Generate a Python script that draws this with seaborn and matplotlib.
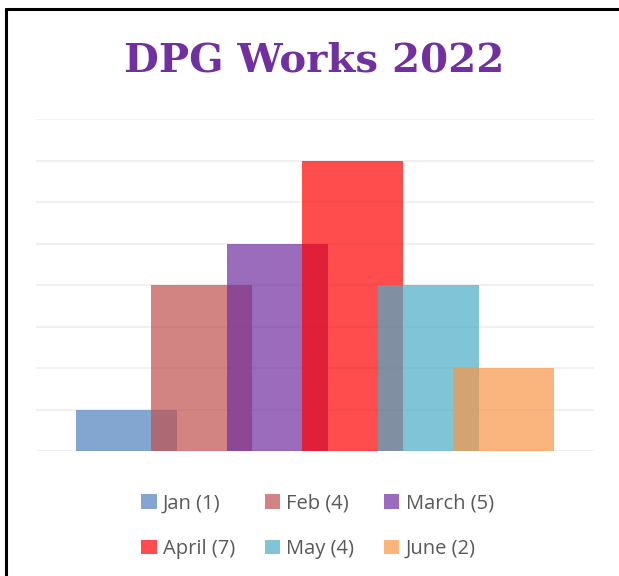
import numpy as np
import pandas as pd
import seaborn as sns
import matplotlib.pyplot as plt
from matplotlib.lines import Line2D
from matplotlib.patches import Patch

# data
months = ['Jan', 'Feb', 'March', 'April', 'May', 'June']
works = [1, 4, 5, 7, 4, 2]
colors = ['#4F81BD', '#C0504D', '#6F2E9E', '#FF0000', '#4BACC6', '#F79646']

df = pd.DataFrame({'month': months, 'works': works})

sns.set_style('white')
fig = plt.figure(figsize=(6.19, 5.76), dpi=100)
ax = fig.add_axes([0.058, 0.217, 0.902, 0.576])

sns.barplot(data=df, x='month', y='works', hue='month', palette=colors,
            width=1.34, alpha=0.7, dodge=False, legend=False, ax=ax,
            linewidth=0, saturation=1)

ax.set_xlim(-1.2, 6.2)
ax.set_ylim(0, 8)
ax.set_yticks(range(0, 9))
ax.yaxis.grid(True, color='#F0F0F0', linewidth=1.5)
ax.set_axisbelow(True)
ax.set_xticks([])
ax.set_yticklabels([])
ax.tick_params(left=False, bottom=False)
ax.set_xlabel('')
ax.set_ylabel('')
for s in ax.spines.values():
    s.set_visible(False)

fig.text(0.508, 0.895, 'DPG Works 2022', ha='center', va='center',
         fontsize=29, fontweight='bold', color='#7030A0', family='DejaVu Serif')

# legend, filled row by row (matplotlib fills by column)
handles = [Patch(facecolor=c, alpha=0.7, edgecolor='none') for c in colors]
labels = [f'{m} ({v})' for m, v in zip(months, works)]
order = [0, 3, 1, 4, 2, 5]
fig.legend([handles[i] for i in order], [labels[i] for i in order],
           ncol=3, loc='center', bbox_to_anchor=(0.513, 0.086),
           frameon=False, labelcolor='#595959',
           prop={'family': 'Open Sans', 'size': 14.5},
           handlelength=0.75, handleheight=0.75, handletextpad=0.3,
           columnspacing=1.5, labelspacing=1.25)

# frame lines (top and left only)
fig.add_artist(Line2D([0.009, 1.0], [0.984, 0.984], color='black', linewidth=2.2))
fig.add_artist(Line2D([0.009, 0.009], [0.0, 0.984], color='black', linewidth=2.2))

plt.savefig('out.png', dpi=100)
